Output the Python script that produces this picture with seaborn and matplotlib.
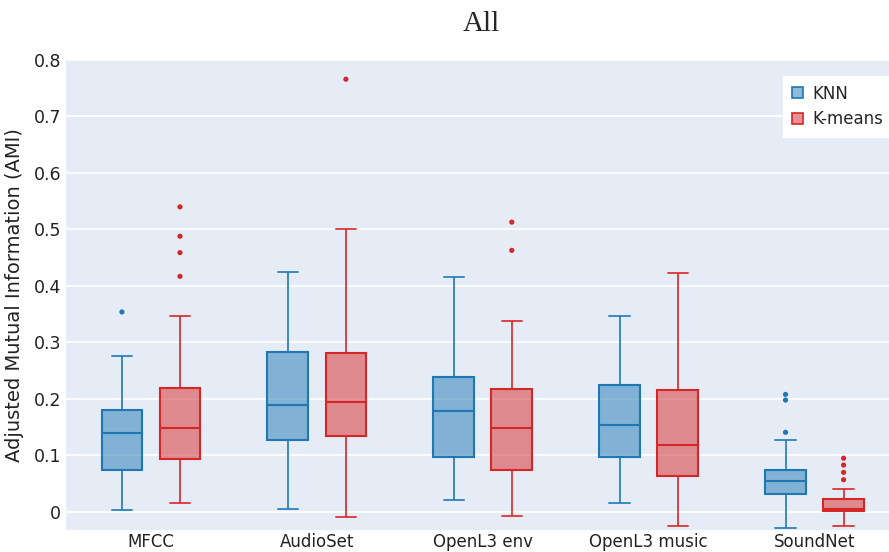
import numpy as np
import pandas as pd
import seaborn as sns
import matplotlib.pyplot as plt
from matplotlib.colors import to_rgba
from matplotlib.patches import Patch

# categories and series
models = ['MFCC', 'AudioSet', 'OpenL3 env', 'OpenL3 music', 'SoundNet']
methods = ['KNN', 'K-means']
colors = ['#1f77b4', '#d62728']

# box summaries: lower whisker, q1, median, q3, upper whisker
knn_stats = [
    [0.004, 0.074, 0.139, 0.180, 0.276],
    [0.005, 0.128, 0.189, 0.283, 0.425],
    [0.021, 0.097, 0.179, 0.239, 0.416],
    [0.016, 0.097, 0.154, 0.225, 0.346],
    [-0.029, 0.031, 0.055, 0.074, 0.128],
]
kmeans_stats = [
    [0.016, 0.094, 0.148, 0.219, 0.347],
    [-0.009, 0.134, 0.194, 0.282, 0.501],
    [-0.008, 0.075, 0.149, 0.217, 0.338],
    [-0.025, 0.063, 0.118, 0.215, 0.423],
    [-0.025, 0.001, 0.006, 0.022, 0.041],
]
knn_outliers = [[0.354], [], [], [], [0.208, 0.198, 0.141]]
kmeans_outliers = [[0.540, 0.488, 0.459, 0.417], [0.766], [0.513, 0.463], [],
                   [0.095, 0.083, 0.070, 0.057]]

y_ticks = [0, 0.1, 0.2, 0.3, 0.4, 0.5, 0.6, 0.7, 0.8]
y_ticklabels = ['0', '0.1', '0.2', '0.3', '0.4', '0.5', '0.6', '0.7', '0.8']

# long tables for seaborn
rows = []
out_rows = []
for method, stats, outs in [('KNN', knn_stats, knn_outliers), ('K-means', kmeans_stats, kmeans_outliers)]:
    for model, s, o in zip(models, stats, outs):
        for v in s:
            rows.append({'model': model, 'method': method, 'ami': v})
        for v in o:
            out_rows.append({'model': model, 'method': method, 'ami': v})
box_df = pd.DataFrame(rows)
out_df = pd.DataFrame(out_rows)

# dodge offsets (same as the boxplot's with width=0.7 and two hue levels)
offsets = {'KNN': -0.175, 'K-means': 0.175}
out_df['pos'] = out_df['model'].map(models.index) + out_df['method'].map(offsets)

sns.set_theme(style='darkgrid', rc={
    'axes.facecolor': '#e5ecf6',
    'grid.color': 'white',
    'grid.linewidth': 1.2,
})
plt.rcParams['font.family'] = ['DejaVu Sans']

fig = plt.figure(figsize=(8.89, 5.52), dpi=100)
ax = fig.add_axes([66 / 889, 22 / 552, 831.5 / 889, 470 / 552])

sns.boxplot(data=box_df, x='model', y='ami', hue='method', order=models, hue_order=methods,
            palette=colors, width=0.7, gap=0.3, whis=(0, 100), showfliers=False,
            linewidth=1.5, legend=False, ax=ax)

# plotly-like colouring: translucent fill, solid outline
for cont, col in zip(ax.containers, colors):
    for b in cont.boxes:
        b.set_facecolor(to_rgba(col, 0.5))
        b.set_edgecolor(col)
        b.set_linewidth(1.5)
    for ln in list(cont.whiskers) + list(cont.caps):
        ln.set_color(col)
        ln.set_linewidth(1.4)
        ln.set_alpha(0.85)
    for ln in cont.medians:
        ln.set_color(col)
        ln.set_linewidth(1.5)

sns.scatterplot(data=out_df, x='pos', y='ami', hue='method', hue_order=methods, palette=colors,
                s=14, linewidth=0, legend=False, ax=ax)

ax.set_xlim(-0.512, 4.5)
ax.set_ylim(-0.032, 0.8)
ax.set_yticks(y_ticks)
ax.set_yticklabels(y_ticklabels)
ax.xaxis.grid(False)
ax.tick_params(length=0, labelsize=12.5, colors='#222222')
ax.tick_params(axis='x', pad=2, labelsize=12)
for s in ax.spines.values():
    s.set_visible(False)
ax.set_xlabel('')
ax.set_ylabel('Adjusted Mutual Information (AMI)', fontsize=14, color='#222222', labelpad=7)
ax.set_title('All', fontfamily='Liberation Serif', fontsize=21, pad=21)

handles = [Patch(facecolor=to_rgba(c, 0.5), edgecolor=c, linewidth=1.2, label=m)
           for m, c in zip(methods, colors)]
leg = ax.legend(handles=handles, loc='upper left', bbox_to_anchor=(775 / 889, 1 - 68 / 552),
                bbox_transform=fig.transFigure, frameon=True, fancybox=False, fontsize=12,
                handlelength=0.65, handleheight=0.65, handletextpad=0.6, borderpad=0.5,
                labelspacing=0.45)
leg.get_frame().set_facecolor('white')
leg.get_frame().set_edgecolor('white')
leg.get_frame().set_alpha(1)

fig.savefig('out.png', dpi=100)
